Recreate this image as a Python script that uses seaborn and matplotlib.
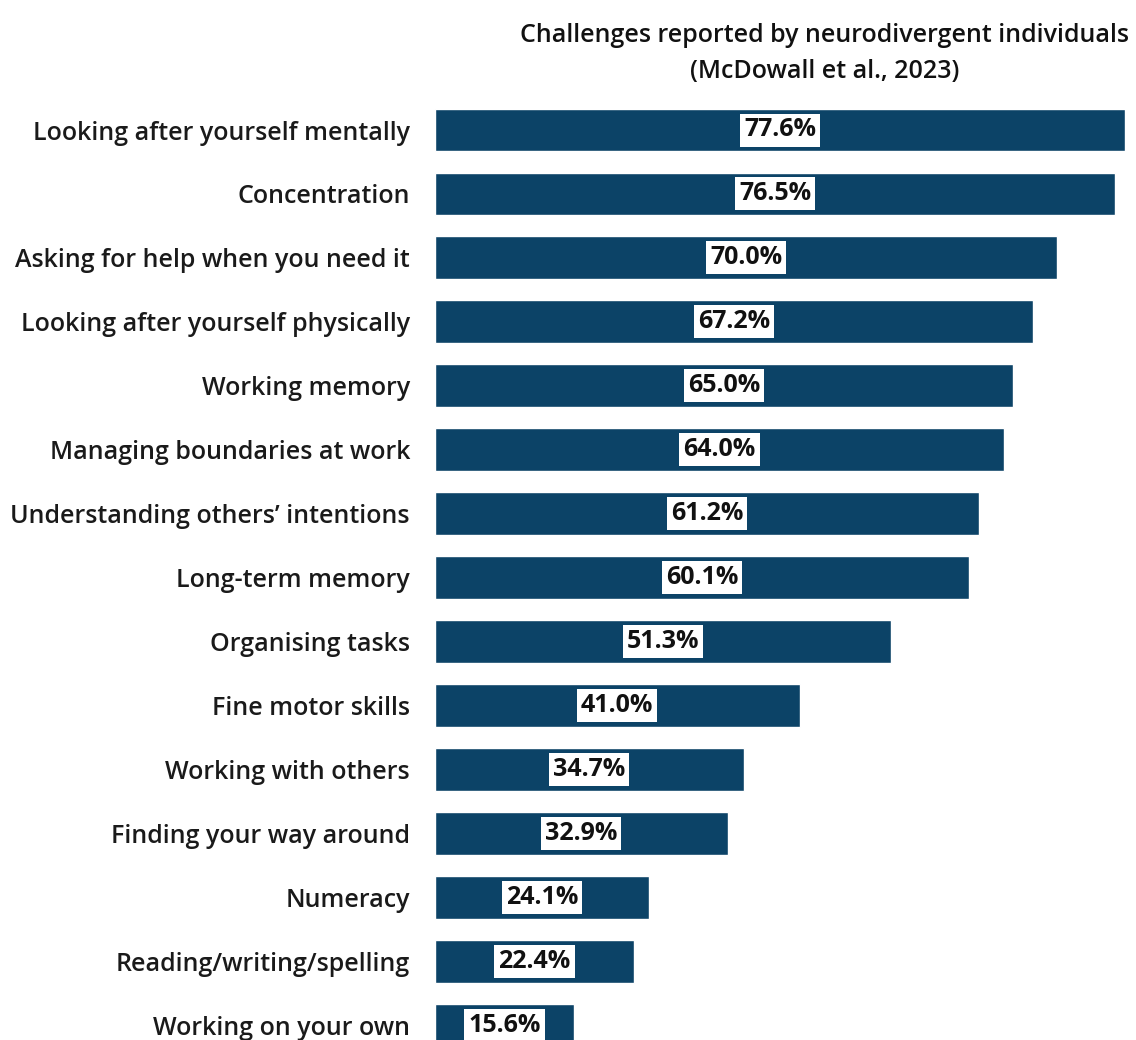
import matplotlib
matplotlib.use("Agg")
import matplotlib.pyplot as plt
import seaborn as sns
import pandas as pd

categories = [
    "Looking after yourself mentally",
    "Concentration",
    "Asking for help when you need it",
    "Looking after yourself physically",
    "Working memory",
    "Managing boundaries at work",
    "Understanding others\u2019 intentions",
    "Long-term memory",
    "Organising tasks",
    "Fine motor skills",
    "Working with others",
    "Finding your way around",
    "Numeracy",
    "Reading/writing/spelling",
    "Working on your own",
]
values = [77.6, 76.5, 70.0, 67.2, 65.0, 64.0, 61.2, 60.1, 51.3, 41.0, 34.7, 32.9, 24.1, 22.4, 15.6]
title_lines = ["Challenges reported by neurodivergent individuals", "(McDowall et al., 2023)"]

df = pd.DataFrame({"category": categories, "value": values})

sns.set_theme(style="white")
plt.rcParams['font.family'] = ['Open Sans', 'DejaVu Sans']

W, H = 1136, 1040
fig = plt.figure(figsize=(W / 100, H / 100), dpi=100)
left_px, right_px = 435, 1125
top_px = 98
ax = fig.add_axes([left_px / W, 0, (right_px - left_px) / W, (H - top_px) / H])

bar_color = "#0c4367"
sns.barplot(data=df, x="value", y="category", orient="h", color=bar_color,
            width=0.67, saturation=1, ax=ax)

step = 63.96
ax.set_xlim(0, max(values))
ax.set_ylim((H - 130) / step, (top_px - 130) / step)
ax.set_xlabel("")
ax.set_ylabel("")
ax.set_xticks([])
for s in ax.spines.values():
    s.set_visible(False)
ax.tick_params(axis="y", length=0, pad=18)
for lbl in ax.get_yticklabels():
    lbl.set_fontsize(18)
    lbl.set_fontweight("semibold")
    lbl.set_color("#1a1a1a")

for i, v in enumerate(values):
    ax.text(v / 2, i, f"{v:.1f}%", ha="center", va="center", fontsize=18,
            fontweight="bold", color="#111111", clip_on=True,
            bbox=dict(boxstyle="square,pad=0.16", facecolor="white", edgecolor="none"))

fig.text(825 / W, 1 - 35 / H, title_lines[0], ha="center", va="center",
         fontsize=18, fontweight="semibold", color="#111111")
fig.text(825 / W, 1 - 71 / H, title_lines[1], ha="center", va="center",
         fontsize=18, fontweight="semibold", color="#111111")

fig.savefig("out.png", dpi=100, facecolor="white")
